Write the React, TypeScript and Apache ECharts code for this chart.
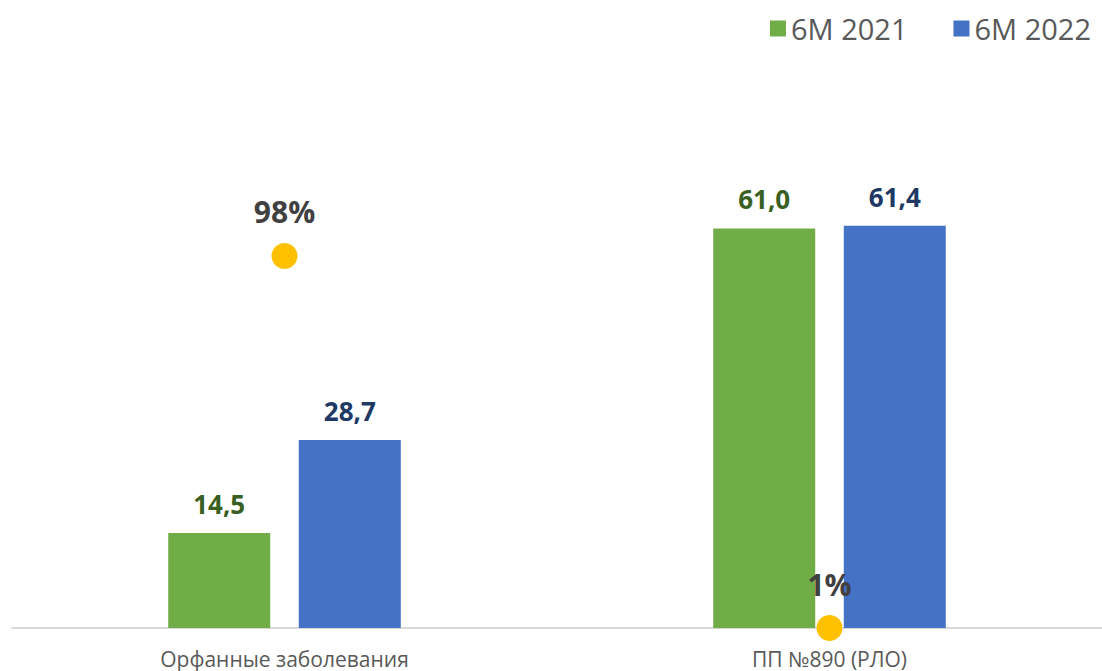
import React, { useEffect, useRef } from "react";
import * as echarts from "echarts";

const categories = ["Орфанные заболевания", "ПП №890 (РЛО)"];
const values2021 = [14.5, 61.0];
const values2022 = [28.7, 61.4];
const growth = [98, 1];
const seriesNames = ["6M 2021", "6M 2022"];

const fmt = (v: number) => v.toFixed(1).replace(".", ",");

export default function App() {
  const ref = useRef<HTMLDivElement>(null);
  useEffect(() => {
    if (!ref.current) return;
    const chart = echarts.init(ref.current, null, { renderer: "svg" });
    const font = "'Open Sans', sans-serif";
    chart.setOption({
      animation: false,
      legend: {
        data: seriesNames,
        right: 6,
        top: 9,
        icon: "rect",
        itemWidth: 16,
        itemHeight: 16,
        itemGap: 46,
        textStyle: { color: "#595959", fontSize: 29, fontFamily: font },
      },
      grid: { left: 12, right: 0, top: 104, bottom: 43 },
      xAxis: {
        type: "category",
        data: categories,
        axisLine: { lineStyle: { color: "#D9D9D9", width: 2 } },
        axisTick: { show: false },
        axisLabel: { color: "#595959", fontSize: 21, fontFamily: font, margin: 20 },
      },
      yAxis: [
        { type: "value", min: 0, max: 80, show: false },
        { type: "value", min: 1, max: 137.6, show: false },
      ],
      series: [
        {
          name: seriesNames[0],
          type: "bar",
          data: values2021,
          barWidth: 102,
          barGap: "28%",
          itemStyle: { color: "#70AD47" },
          label: {
            show: true,
            position: "top",
            distance: 16,
            formatter: (p: any) => fmt(p.value),
            color: "#3A5F23",
            fontSize: 26,
            fontWeight: "bold",
            fontFamily: font,
          },
        },
        {
          name: seriesNames[1],
          type: "bar",
          data: values2022,
          barWidth: 102,
          itemStyle: { color: "#4472C4" },
          label: {
            show: true,
            position: "top",
            distance: 16,
            formatter: (p: any) => fmt(p.value),
            color: "#203864",
            fontSize: 26,
            fontWeight: "bold",
            fontFamily: font,
          },
        },
        {
          name: "growth",
          type: "scatter",
          yAxisIndex: 1,
          data: growth,
          symbolSize: 26,
          itemStyle: { color: "#FFC000", opacity: 1 },
          z: 5,
          label: {
            show: true,
            position: "top",
            distance: 16,
            formatter: (p: any) => p.value + "%",
            color: "#404040",
            opacity: 1,
            fontSize: 30,
            fontWeight: "bold",
            fontFamily: font,
          },
          emphasis: { disabled: true },
        },
      ],
    });
    return () => chart.dispose();
  }, []);
  return <div ref={ref} style={{ width: 1102, height: 671, position: "absolute", left: 0, top: 0 }} />;
}
